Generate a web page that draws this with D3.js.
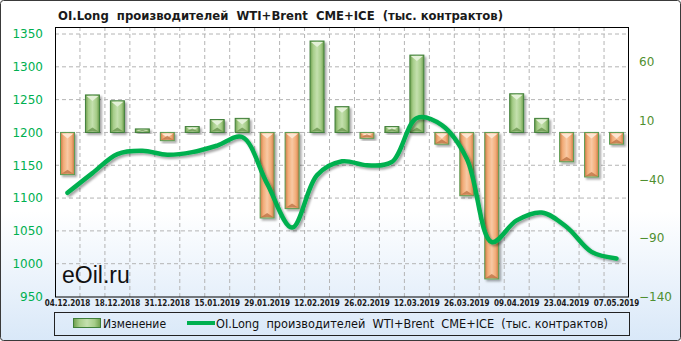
<!DOCTYPE html>
<html>
<head>
<meta charset="utf-8">
<script src="https://cdn.jsdelivr.net/npm/d3@7"></script>
<style>
	body{ margin:0; background:#fff; }
	svg{ display:block; }
</style>
</head>
<body>
<svg class="chart" width="681" height="341"></svg>
<script>
// weekly report dates
var dates = ["04.12.2018","11.12.2018","18.12.2018","25.12.2018","31.12.2018","08.01.2019","15.01.2019","22.01.2019",
	"29.01.2019","05.02.2019","12.02.2019","19.02.2019","26.02.2019","05.03.2019","12.03.2019","19.03.2019",
	"26.03.2019","02.04.2019","09.04.2019","16.04.2019","23.04.2019","30.04.2019","07.05.2019"];
var dateLabels = ["04.12.2018","18.12.2018","31.12.2018","15.01.2019","29.01.2019","12.02.2019",
	"26.02.2019","12.03.2019","26.03.2019","09.04.2019","23.04.2019","07.05.2019"];
// change, right axis
var change = [-36, 32, 27, 3, -7, 5, 11, 12, -73, -65, 78, 22, -5, 5, 66, -10, -54, -125, 33, 12, -25, -38, -10];
// OI long producers, left axis
var oiLong = [1108, 1138, 1167, 1172, 1166, 1170, 1180, 1193, 1122, 1055, 1135, 1156, 1150, 1155, 1222, 1211,
	1160, 1033, 1066, 1078, 1056, 1018, 1008];
var leftTicks = [950, 1000, 1050, 1100, 1150, 1200, 1250, 1300, 1350];
var rightTicks = [-140, -90, -40, 10, 60];

var titleText = "OI.Long  производителей  WTI+Brent  CME+ICE  (тыс. контрактов)";
var barName = "Изменение";

var W = 681, H = 341;
var margin = {left:55, right:52, top:27, bottom:44};
var plotR = W - margin.right, plotB = H - margin.bottom;

var chart = d3.select('.chart');
var defs = chart.append('defs');

var bg = defs.append('linearGradient').attr('id','bg').attr('x1',0).attr('y1',0).attr('x2',0).attr('y2',1);
bg.append('stop').attr('offset','0%').attr('stop-color','#ffffff');
bg.append('stop').attr('offset','62%').attr('stop-color','#ffffff');
bg.append('stop').attr('offset','100%').attr('stop-color','#d9e8f8');

function barGrad(id, edge, mid, light){
	var g = defs.append('linearGradient').attr('id',id).attr('x1',0).attr('y1',0).attr('x2',1).attr('y2',0);
	g.append('stop').attr('offset','0%').attr('stop-color',edge);
	g.append('stop').attr('offset','22%').attr('stop-color',mid);
	g.append('stop').attr('offset','50%').attr('stop-color',light);
	g.append('stop').attr('offset','78%').attr('stop-color',mid);
	g.append('stop').attr('offset','100%').attr('stop-color',edge);
}
barGrad('gUp', '#6e9e4c', '#a6cd89', '#c4e0ae');
barGrad('gDn', '#c97a45', '#f2ac78', '#f8c9a4');

var sh = defs.append('filter').attr('id','shadow').attr('x','-30%').attr('y','-30%').attr('width','160%').attr('height','160%');
sh.append('feDropShadow').attr('dx',2).attr('dy',2).attr('stdDeviation',1.3)
	.attr('flood-color','#000').attr('flood-opacity',0.35);

chart.append('rect')
	.attr('x',0.5).attr('y',0.5).attr('width',W-1).attr('height',H-1)
	.attr('rx',3)
	.attr('fill','url(#bg)').attr('stroke','#3a3a3a');

var x = d3.scaleBand().domain(dates).range([margin.left, plotR]);
var yL = d3.scaleLinear().domain([950,1350]).range([296.5, 34]);
var yR = d3.scaleLinear().domain([-140,84]).range([296.5, 34]);

// grid
chart.append('g').selectAll('line')
	.data(leftTicks.slice(1))
	.enter().append('line')
	.attr('x1',margin.left).attr('x2',plotR)
	.attr('y1',function(d){ return yL(d); }).attr('y2',function(d){ return yL(d); })
	.attr('stroke','#b4b4b4').attr('stroke-dasharray','4,3');
chart.append('g').selectAll('line')
	.data(dates.slice(1))
	.enter().append('line')
	.attr('x1',function(d){ return x(d); }).attr('x2',function(d){ return x(d); })
	.attr('y1',margin.top).attr('y2',plotB)
	.attr('stroke','#b4b4b4').attr('stroke-dasharray','4,3');

// bars
var bw = x.bandwidth()*0.56;
var bars = chart.append('g').selectAll('g')
	.data(change)
	.enter().append('g')
	.attr('filter','url(#shadow)');
bars.append('rect')
	.attr('x',function(d,i){ return x(dates[i]) + (x.bandwidth()-bw)/2; })
	.attr('y',function(d){ return yR(Math.max(d,0)); })
	.attr('width',bw)
	.attr('height',function(d){ return Math.abs(yR(d)-yR(0)); })
	.attr('fill',function(d){ return d >= 0 ? 'url(#gUp)' : 'url(#gDn)'; })
	.attr('stroke',function(d){ return d >= 0 ? '#3f7f3a' : '#5a9c52'; })
	.attr('stroke-width',1);
bars.append('path')
	.attr('d',function(d,i){
		var x0 = x(dates[i]) + (x.bandwidth()-bw)/2 + 1, t = yR(Math.max(d,0)) + 1,
			h = Math.abs(yR(d)-yR(0)), w = bw - 2, k = Math.min(5, h/2);
		return 'M' + x0 + ',' + t + 'L' + (x0+w) + ',' + t + 'L' + (x0+w/2) + ',' + (t+k) + 'Z';
	})
	.attr('fill',function(d){ return d >= 0 ? '#e4f1d8' : '#fde6d2'; });
bars.append('path')
	.attr('d',function(d,i){
		var x0 = x(dates[i]) + (x.bandwidth()-bw)/2 + 1, b = yR(Math.min(d,0)) - 1,
			h = Math.abs(yR(d)-yR(0)), w = bw - 2, k = Math.min(4, h/2);
		return 'M' + x0 + ',' + b + 'L' + (x0+w) + ',' + b + 'L' + (x0+w/2) + ',' + (b-k) + 'Z';
	})
	.attr('fill',function(d){ return d >= 0 ? '#5e8c42' : '#b76a3a'; })
	.attr('opacity',0.7);

// line
var line = d3.line()
	.x(function(d,i){ return x(dates[i]) + x.bandwidth()/2; })
	.y(function(d){ return yL(d); })
	.curve(d3.curveCatmullRom.alpha(0.5));
chart.append('path')
	.datum(oiLong)
	.attr('fill','none')
	.attr('stroke','#00b050')
	.attr('stroke-width',4.5)
	.attr('stroke-linejoin','round')
	.attr('stroke-linecap','round')
	.attr('filter','url(#shadow)')
	.attr('d',line);

// frame
chart.append('rect')
	.attr('x',margin.left+0.5).attr('y',margin.top+0.5)
	.attr('width',plotR-margin.left-1).attr('height',plotB-margin.top-0.5)
	.attr('fill','none').attr('stroke','#000');

// axes
var leftAxis = chart.append('g')
	.attr('transform','translate(' + margin.left + ',0)')
	.call(d3.axisLeft(yL).tickValues(leftTicks).tickFormat(d3.format('d')).tickSize(0).tickPadding(12));
leftAxis.select('.domain').remove();
leftAxis.selectAll('text')
	.attr('font-family','"DejaVu Sans", sans-serif').attr('font-size','12px')
	.attr('fill','#00b050');

var rightAxis = chart.append('g')
	.attr('transform','translate(' + plotR + ',0)')
	.call(d3.axisRight(yR).tickValues(rightTicks).tickFormat(d3.format('d')).tickSize(0).tickPadding(10));
rightAxis.select('.domain').remove();
rightAxis.selectAll('text')
	.attr('font-family','"DejaVu Sans", sans-serif').attr('font-size','12px')
	.attr('fill','#4f8f30');

var xAxis = chart.append('g')
	.attr('transform','translate(0,' + plotB + ')')
	.call(d3.axisBottom(x).tickValues(dateLabels).tickSize(0).tickPadding(3));
xAxis.select('.domain').remove();
xAxis.selectAll('text')
	.attr('font-family','"DejaVu Sans Condensed", sans-serif').attr('font-size','8px')
	.attr('font-weight','bold').attr('fill','#1a1a1a');

// title
chart.append('text')
	.attr('x',58).attr('y',20)
	.attr('font-family','"DejaVu Sans Condensed", sans-serif').attr('font-size','13px')
	.attr('font-weight','bold').attr('fill','#1a1a1a')
	.attr('textLength',445).attr('lengthAdjust','spacingAndGlyphs')
	.style('white-space','pre')
	.text(titleText);

// watermark
chart.append('text')
	.attr('x',62).attr('y',283)
	.attr('font-family','"Liberation Sans", Arial, sans-serif').attr('font-size','23px')
	.attr('fill','#111')
	.text('eOil.ru');

// legend
var lg = chart.append('g');
lg.append('rect')
	.attr('x',54.5).attr('y',312.5).attr('width',575).attr('height',23)
	.attr('fill','none').attr('stroke','#222');
lg.append('rect')
	.attr('x',73.5).attr('y',318.5).attr('width',27).attr('height',9)
	.attr('fill','url(#gUp)').attr('stroke','#3f7f3a');
lg.append('text')
	.attr('x',103).attr('y',328)
	.attr('font-family','"DejaVu Sans Condensed", sans-serif').attr('font-size','12px')
	.attr('fill','#111')
	.text(barName);
lg.append('line')
	.attr('x1',187).attr('x2',215).attr('y1',323).attr('y2',323)
	.attr('stroke','#00b050').attr('stroke-width',4);
lg.append('text')
	.attr('x',216).attr('y',328)
	.attr('font-family','"DejaVu Sans Condensed", sans-serif').attr('font-size','12px')
	.attr('fill','#111')
	.attr('textLength',392).attr('lengthAdjust','spacingAndGlyphs')
	.style('white-space','pre')
	.text(titleText);
</script>
</body>
</html>
